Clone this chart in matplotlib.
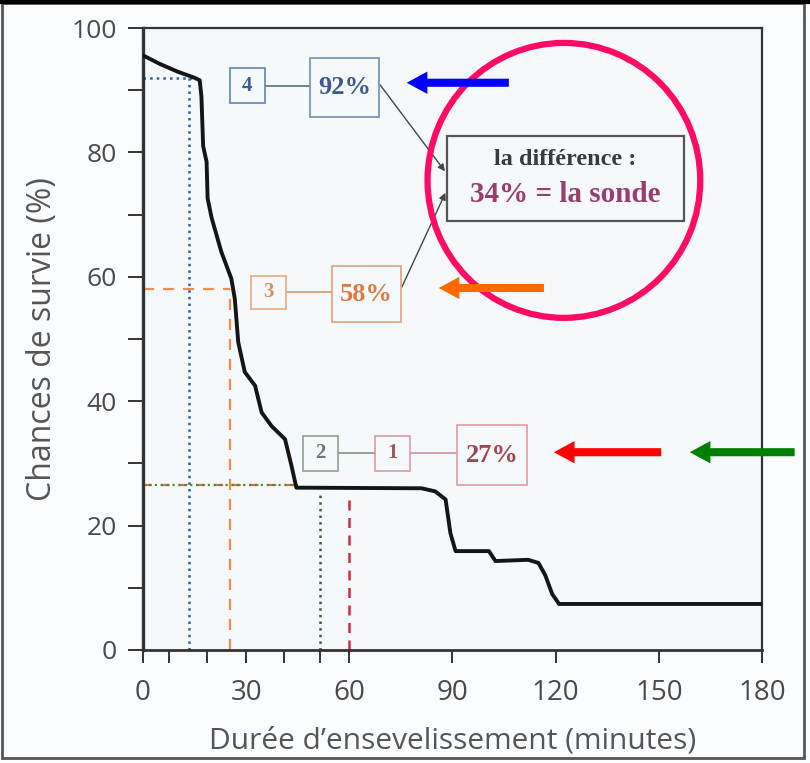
import matplotlib
matplotlib.use("Agg")
import matplotlib.pyplot as plt
from matplotlib.patches import Rectangle, Ellipse, FancyArrow

plt.rcParams['font.family'] = ['Open Sans', 'DejaVu Sans']

# survival curve (minutes, %)
minutes = [0, 5, 10, 15, 16.5, 17, 17.5, 18.5, 18.8, 20, 22.8, 25.7, 26.7, 27.7,
           29.6, 32.6, 34.5, 37.4, 41.3, 43.2, 44.6, 81, 85, 88, 89.4, 90.9,
           100.6, 102.5, 112, 115, 117, 119, 121, 180]
survie = [95.6, 94.2, 93, 92, 91.6, 89, 81, 78.5, 72.6, 69.4, 64, 59.7, 56.5, 49.5,
          44.7, 42.5, 38.2, 36, 33.9, 29.6, 26.1, 26.0, 25.5, 24.2, 18.8, 15.9,
          15.9, 14.3, 14.5, 14.0, 12, 9, 7.4, 7.4]

# reference readings: (time, survival)
ref_blue = (13.5, 92)
ref_orange = (25.3, 58)
ref_red = (60, 26.5)
ref_green = (51.6, 26.5)

x_major = [0, 30, 60, 90, 120, 150, 180]
x_minor = [7.5, 18.5, 41, 51.6]
y_major = [0, 20, 40, 60, 80, 100]
y_minor = [10, 30, 50, 70, 90]

fig = plt.figure(figsize=(8.1, 7.63), dpi=100, facecolor='#fbfcfe')
ax = fig.add_axes([0.1765, 0.1481, 0.7642, 0.8152])
ax.set_facecolor('#f6f9fc')

ax.plot(minutes, survie, color='#151515', lw=2.8, solid_joinstyle='round', zorder=5)

# reading lines
ax.plot([0, ref_blue[0] + 1.5], [ref_blue[1], ref_blue[1]], ls=':', color='#2f5ea8', lw=1.8)
ax.plot([ref_blue[0], ref_blue[0]], [0, ref_blue[1]], ls=':', color='#2f5ea8', lw=1.8)
ax.plot([0, ref_orange[0]], [ref_orange[1], ref_orange[1]], ls=(0, (5, 4)), color='#f08d4f', lw=1.6)
ax.plot([ref_orange[0], ref_orange[0]], [0, ref_orange[1]], ls=(0, (5, 4)), color='#f08d4f', lw=1.6)
ax.plot([0, 45], [ref_red[1], ref_red[1]], ls=(0, (4, 4)), color='#e06a4a', lw=1.6)
ax.plot([0, 45], [ref_green[1], ref_green[1]], ls=':', color='#4d8a3d', lw=1.6)
ax.plot([ref_red[0], ref_red[0]], [0, 24.5], ls=(0, (4, 3)), color='#d42a3c', lw=1.8)
ax.plot([ref_green[0], ref_green[0]], [0, 25], ls=':', color='#3f5a3f', lw=1.8)

ax.set_xlim(0, 180)
ax.set_ylim(0, 100)
ax.set_xticks(x_major)
ax.set_xticks(x_minor, minor=True)
ax.set_yticks(y_major)
ax.set_yticks(y_minor, minor=True)
ax.tick_params(axis='both', which='both', direction='out', colors='#333333',
               labelcolor='#4a4a4a')
ax.tick_params(axis='y', which='both', length=11, width=1.4, pad=8, labelsize=19)
ax.tick_params(axis='x', which='both', length=9, width=1.4, pad=12, labelsize=20)
for s in ax.spines.values():
    s.set_color('#333333')
    s.set_linewidth(1.6)
ax.spines['left'].set_linewidth(2.4)
ax.spines['bottom'].set_linewidth(2.0)

ax.set_ylabel('Chances de survie (%)', fontsize=23, color='#555555', labelpad=9)
ax.set_xlabel("Durée d’ensevelissement (minutes)", fontsize=21.5, color='#555555', labelpad=14)


def box(xc, yc, w, h, txt, ec, tc, fs):
    ax.add_patch(Rectangle((xc - w / 2, yc - h / 2), w, h, fill=False, ec=ec, lw=1.3, zorder=6))
    ax.text(xc, yc, txt, ha='center', va='center', color=tc, fontsize=fs,
            family='Liberation Serif', weight='bold', zorder=7)


# boxes: 4 -> 92%, 3 -> 58%, 2 -> 1 -> 27%
box(30.3, 90.7, 10.2, 5.6, '4', '#6f8cbf', '#3d5f9c', 15)
box(58.6, 90.4, 19.8, 9.5, '92%', '#7e95c0', '#3d5a90', 19)
ax.plot([35.4, 48.7], [90.7, 90.7], color='#5f7c8c', lw=1.3)
box(36.6, 57.5, 10.2, 5.3, '3', '#e9b08a', '#d99060', 15)
box(64.9, 57.2, 20.1, 9.0, '58%', '#e9a582', '#e07a45', 19)
ax.plot([41.7, 54.8], [57.5, 57.5], color='#e29a70', lw=1.3)
box(51.7, 31.6, 10.2, 5.6, '2', '#98a698', '#6b7a6b', 15)
box(72.6, 31.6, 10.2, 5.6, '1', '#d9a4a8', '#a05a5a', 15)
box(101.5, 31.3, 20.4, 9.7, '27%', '#e2a3ab', '#a8424f', 19)
ax.plot([56.8, 67.5], [31.6, 31.6], color='#8f9a8a', lw=1.3)
ax.plot([77.7, 91.3], [31.6, 31.6], color='#d49aa0', lw=1.3)

# difference box
ax.add_patch(Rectangle((88.3, 68.9), 69.1, 13.8, fill=False, ec='#555555', lw=1.6, zorder=6))
ax.text(122.8, 78.8, 'la différence :', ha='center', va='center', fontsize=17.5,
        family='Liberation Serif', weight='bold', color='#3a3a3a', zorder=7)
ax.text(122.8, 73.2, '34% = la sonde', ha='center', va='center', fontsize=21,
        family='Liberation Serif', weight='bold', color='#9a3d6e', zorder=7)
ax.annotate('', xy=(88.3, 76.6), xytext=(68.5, 91.2),
            arrowprops=dict(arrowstyle='-|>', color='#444444', lw=1.0, mutation_scale=10))
ax.annotate('', xy=(88.3, 73.9), xytext=(74.9, 57.9),
            arrowprops=dict(arrowstyle='-|>', color='#444444', lw=1.0, mutation_scale=10))

# highlight circle
ax.add_patch(Ellipse((122.4, 75.5), 79.3, 44.2, fill=False, ec='#ff0a64', lw=4.5,
                     zorder=8, clip_on=False))

# coloured pointers
arrows = [(106.4, 76.7, 91.2, '#0000ff'), (116.6, 86.0, 58.2, '#ff6a00'),
          (150.7, 119.5, 31.8, '#ff0000'), (189.5, 159.0, 31.8, '#008000')]
for x0, x1, yy, c in arrows:
    ax.add_patch(FancyArrow(x0, yy, x1 - x0, 0, width=1.3, head_width=3.6, head_length=6,
                            length_includes_head=True, color=c, lw=0, zorder=9, clip_on=False))

# outer frame of the screenshot
fig.add_artist(Rectangle((0.002, 0.006), 0.991, 0.99, transform=fig.transFigure,
                         fill=False, ec='#555555', lw=2))
fig.add_artist(plt.Line2D([0, 1], [0.998, 0.998], transform=fig.transFigure, color='black', lw=3))

fig.savefig('out.png', dpi=100, facecolor=fig.get_facecolor())
